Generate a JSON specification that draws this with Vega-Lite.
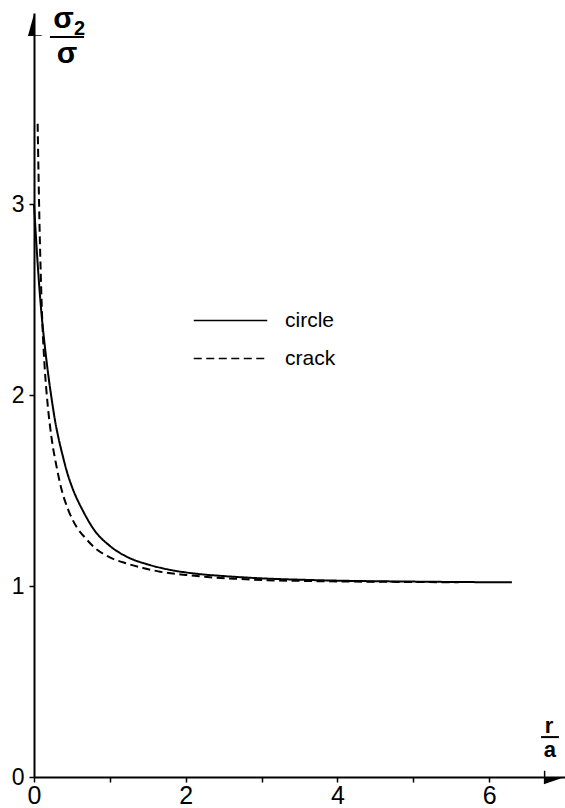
{
  "$schema": "https://vega.github.io/schema/vega-lite/v6.json",
  "width": 531,
  "height": 764,
  "autosize": {"type": "none"},
  "padding": {"left": 34, "top": 13, "right": 0, "bottom": 31},
  "background": "white",
  "config": {
    "view": {"stroke": null},
    "font": "Liberation Sans",
    "axis": {
      "grid": false, "domainColor": "black", "domainWidth": 2,
      "tickColor": "black", "tickWidth": 1.5, "tickSize": 5,
      "labelColor": "black", "labelFont": "Liberation Sans",
      "labelFlush": false, "labelOverlap": false
    },
    "axisX": {"labelFontSize": 25, "labelPadding": 1},
    "axisY": {"labelFontSize": 23, "labelPadding": 5}
  },
  "layer": [
    {
      "data": {
        "values": [
          {"series": "circle", "x": 0.0, "y": 3.0},
          {"series": "circle", "x": 0.03, "y": 2.8},
          {"series": "circle", "x": 0.06, "y": 2.62},
          {"series": "circle", "x": 0.1, "y": 2.42},
          {"series": "circle", "x": 0.15, "y": 2.23},
          {"series": "circle", "x": 0.2, "y": 2.07},
          {"series": "circle", "x": 0.24, "y": 1.96},
          {"series": "circle", "x": 0.28, "y": 1.86},
          {"series": "circle", "x": 0.32, "y": 1.78},
          {"series": "circle", "x": 0.38, "y": 1.68},
          {"series": "circle", "x": 0.44, "y": 1.59},
          {"series": "circle", "x": 0.5, "y": 1.52},
          {"series": "circle", "x": 0.65, "y": 1.39},
          {"series": "circle", "x": 0.8, "y": 1.29},
          {"series": "circle", "x": 1.0, "y": 1.21},
          {"series": "circle", "x": 1.25, "y": 1.148},
          {"series": "circle", "x": 1.5, "y": 1.113},
          {"series": "circle", "x": 1.8, "y": 1.084},
          {"series": "circle", "x": 2.1, "y": 1.066},
          {"series": "circle", "x": 2.5, "y": 1.052},
          {"series": "circle", "x": 3.0, "y": 1.04},
          {"series": "circle", "x": 3.5, "y": 1.033},
          {"series": "circle", "x": 4.0, "y": 1.028},
          {"series": "circle", "x": 5.0, "y": 1.023},
          {"series": "circle", "x": 6.3, "y": 1.019},
          {"series": "crack", "x": 0.048, "y": 3.42},
          {"series": "crack", "x": 0.06, "y": 3.15},
          {"series": "crack", "x": 0.075, "y": 2.85},
          {"series": "crack", "x": 0.09, "y": 2.62},
          {"series": "crack", "x": 0.11, "y": 2.38},
          {"series": "crack", "x": 0.14, "y": 2.15},
          {"series": "crack", "x": 0.18, "y": 1.95},
          {"series": "crack", "x": 0.23, "y": 1.78},
          {"series": "crack", "x": 0.3, "y": 1.62},
          {"series": "crack", "x": 0.36, "y": 1.51},
          {"series": "crack", "x": 0.45, "y": 1.4},
          {"series": "crack", "x": 0.56, "y": 1.31},
          {"series": "crack", "x": 0.68, "y": 1.25},
          {"series": "crack", "x": 0.8, "y": 1.2},
          {"series": "crack", "x": 1.0, "y": 1.15},
          {"series": "crack", "x": 1.22, "y": 1.118},
          {"series": "crack", "x": 1.45, "y": 1.093},
          {"series": "crack", "x": 1.66, "y": 1.075},
          {"series": "crack", "x": 2.0, "y": 1.058},
          {"series": "crack", "x": 2.32, "y": 1.046},
          {"series": "crack", "x": 2.7, "y": 1.037},
          {"series": "crack", "x": 3.0, "y": 1.031},
          {"series": "crack", "x": 3.5, "y": 1.027},
          {"series": "crack", "x": 4.2, "y": 1.023},
          {"series": "crack", "x": 5.0, "y": 1.021},
          {"series": "crack", "x": 5.6, "y": 1.019}
        ]
      },
      "mark": {"type": "line", "color": "black", "strokeWidth": 2, "interpolate": "monotone"},
      "encoding": {
        "x": {
          "field": "x", "type": "quantitative",
          "scale": {"domain": [0, 7], "nice": false, "zero": false},
          "axis": {
            "title": null,
            "values": [0, 1, 2, 3, 4, 5, 6],
            "format": "d",
            "labelExpr": "datum.value % 2 === 0 ? datum.label : ''"
          }
        },
        "y": {
          "field": "y", "type": "quantitative",
          "scale": {"domain": [0, 4], "nice": false, "zero": false},
          "axis": {"title": null, "values": [0, 1, 2, 3], "format": "d"}
        },
        "strokeDash": {
          "field": "series", "type": "nominal",
          "scale": {"domain": ["circle", "crack"], "range": [[1, 0], [8, 4.5]]},
          "legend": {
            "title": null, "orient": "none", "legendX": 185, "legendY": 296,
            "symbolType": "M-3.5,0H3.5", "symbolSize": 441,
            "symbolStrokeColor": "black", "symbolStrokeWidth": 1.5, "symbolFillColor": "transparent",
            "labelFont": "Liberation Sans", "labelFontSize": 21, "labelColor": "black",
            "labelOffset": 43, "rowPadding": 16, "padding": 0
          }
        }
      }
    },
    {
      "data": {"values": [{}]},
      "mark": {"type": "point", "shape": "M-1,-0.6L-0.86,-0.6L-0.86,0L1,0L-1,0.7Z", "size": 441, "filled": true, "color": "black", "strokeWidth": 0, "opacity": 1},
      "encoding": {"x": {"datum": 6.86, "type": "quantitative", "axis": {"title": null}}, "y": {"datum": 0, "type": "quantitative", "axis": {"title": null}}}
    },
    {
      "data": {"values": [{}]},
      "mark": {"type": "point", "shape": "M0,-1L0,0.92L0.7,0.92L0.7,1L-0.55,1Z", "size": 484, "filled": true, "color": "black", "strokeWidth": 0, "opacity": 1},
      "encoding": {"x": {"datum": 0, "type": "quantitative", "axis": {"title": null}}, "y": {"datum": 3.937, "type": "quantitative", "axis": {"title": null}}}
    },
    {
      "data": {"values": [{}]},
      "mark": {"type": "text", "text": "σ", "font": "Liberation Sans", "fontWeight": "bold", "fontSize": 30, "align": "center", "baseline": "alphabetic", "color": "black"},
      "encoding": {"x": {"datum": 0.39, "type": "quantitative", "axis": {"title": null}}, "y": {"datum": 3.921, "type": "quantitative", "axis": {"title": null}}}
    },
    {
      "data": {"values": [{}]},
      "mark": {"type": "text", "text": "2", "font": "Liberation Sans", "fontWeight": "bold", "fontSize": 20, "align": "center", "baseline": "alphabetic", "color": "black"},
      "encoding": {"x": {"datum": 0.6, "type": "quantitative", "axis": {"title": null}}, "y": {"datum": 3.885, "type": "quantitative", "axis": {"title": null}}}
    },
    {
      "data": {"values": [{}]},
      "mark": {"type": "rule", "color": "black", "strokeWidth": 2},
      "encoding": {"x": {"datum": 0.21, "type": "quantitative", "axis": {"title": null}}, "x2": {"datum": 0.66}, "y": {"datum": 3.874, "type": "quantitative", "axis": {"title": null}}}
    },
    {
      "data": {"values": [{}]},
      "mark": {"type": "text", "text": "σ", "font": "Liberation Sans", "fontWeight": "bold", "fontSize": 30, "align": "center", "baseline": "alphabetic", "color": "black"},
      "encoding": {"x": {"datum": 0.434, "type": "quantitative", "axis": {"title": null}}, "y": {"datum": 3.738, "type": "quantitative", "axis": {"title": null}}}
    },
    {
      "data": {"values": [{}]},
      "mark": {"type": "text", "text": "r", "font": "Liberation Sans", "fontWeight": "bold", "fontSize": 22, "align": "center", "baseline": "alphabetic", "color": "black"},
      "encoding": {"x": {"datum": 6.79, "type": "quantitative", "axis": {"title": null}}, "y": {"datum": 0.23, "type": "quantitative", "axis": {"title": null}}}
    },
    {
      "data": {"values": [{}]},
      "mark": {"type": "rule", "color": "black", "strokeWidth": 2},
      "encoding": {"x": {"datum": 6.684, "type": "quantitative", "axis": {"title": null}}, "x2": {"datum": 6.92}, "y": {"datum": 0.209, "type": "quantitative", "axis": {"title": null}}}
    },
    {
      "data": {"values": [{}]},
      "mark": {"type": "text", "text": "a", "font": "Liberation Sans", "fontWeight": "bold", "fontSize": 22, "align": "center", "baseline": "alphabetic", "color": "black"},
      "encoding": {"x": {"datum": 6.8, "type": "quantitative", "axis": {"title": null}}, "y": {"datum": 0.105, "type": "quantitative", "axis": {"title": null}}}
    }
  ]
}
